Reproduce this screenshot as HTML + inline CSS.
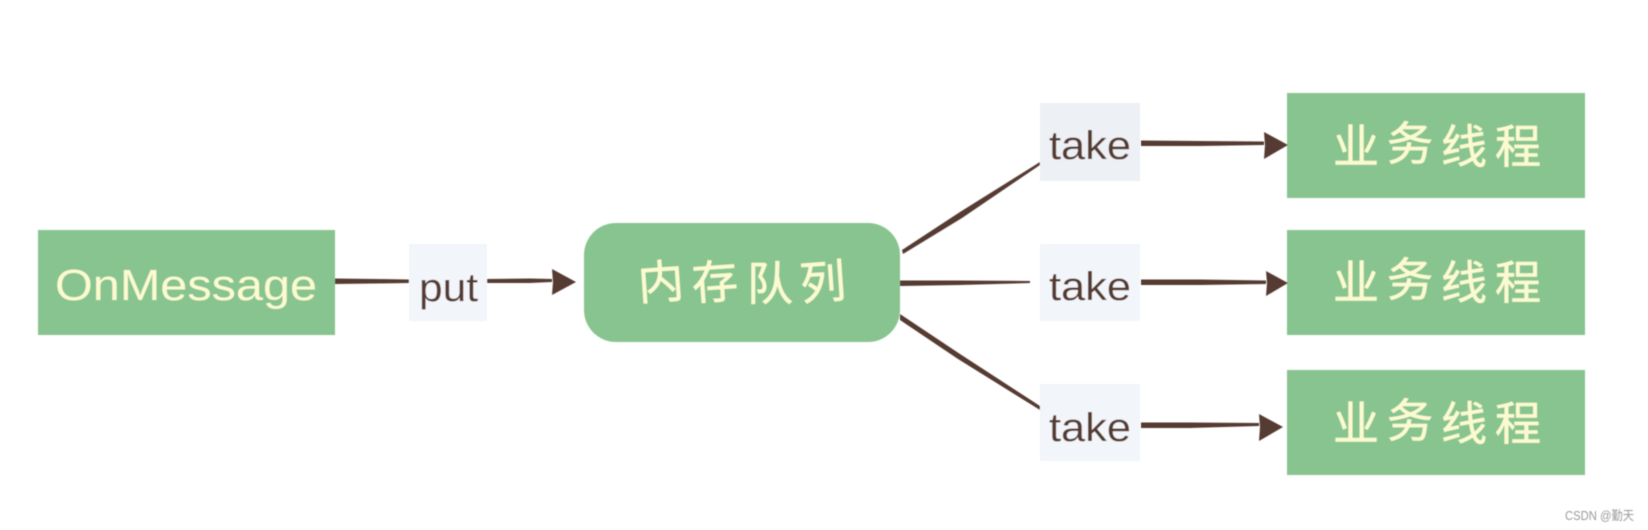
<!DOCTYPE html>
<html lang="zh">
<head>
<meta charset="utf-8">
<style>
html,body{margin:0;padding:0;background:#fff;width:1648px;height:530px;overflow:hidden}
svg{display:block}
text{font-family:"Liberation Sans","WenQuanYi Zen Hei","Noto Sans CJK SC",sans-serif}
.g{fill:#fbfad0;font-size:44px}
.t{fill:#553b30;font-size:40px}
.c{font-family:"WenQuanYi Zen Hei","Noto Sans CJK SC",sans-serif;fill:#fbfad0;font-size:46px;stroke:#fbfad0;stroke-width:.6}
</style>
</head>
<body>
<svg width="1648" height="530" viewBox="0 0 1648 530" xmlns="http://www.w3.org/2000/svg">
<defs><filter id="b" x="-2%" y="-2%" width="104%" height="104%"><feGaussianBlur stdDeviation="0.6"/></filter></defs>
<g filter="url(#b)">
<rect x="38" y="230" width="297" height="105" fill="#88c490"/>
<rect x="584" y="223" width="316" height="119" rx="32" fill="#88c490"/>
<rect x="1287" y="93" width="298" height="105" fill="#88c490"/>
<rect x="1287" y="230" width="298" height="105" fill="#88c490"/>
<rect x="1287" y="370" width="298" height="105" fill="#88c490"/>
<rect x="409" y="244" width="78" height="77" fill="#f2f5f9"/>
<rect x="1040" y="103" width="100" height="78" fill="#edf0f4"/>
<rect x="1040" y="244" width="100" height="77" fill="#f2f5f9"/>
<rect x="1040" y="384" width="100" height="77" fill="#f2f5f9"/>

<g fill="#553b30">
<polygon points="335,278.500 375,279 409,279.500 409,283 375,283.500 335,284"/>
<polygon points="487,279 530,278.500 552,279 552,282 530,283 487,283"/>
<polygon points="552,269 576,282 552,295 553,282"/>
<polygon points="902,250 960,212 1040,162 1040,165 962,218 903,254"/>
<polygon points="900,280.500 960,280.500 1030,281 1030,283 960,285 900,286"/>
<polygon points="900,314 960,354 1040,406 1040,410 958,359 900,320"/>
<polygon points="1141,140.500 1200,141 1264,141.500 1264,145 1200,146 1141,146"/>
<polygon points="1264,132 1288,145 1264,159 1265,145"/>
<polygon points="1141,279.500 1200,279.500 1266,280.500 1266,284 1200,285 1141,285"/>
<polygon points="1266,271 1288,283 1266,296 1267,283"/>
<polygon points="1141,422.500 1190,422.500 1259,423 1259,426 1190,428 1141,428"/>
<polygon points="1259,414 1283,427 1259,441 1260,427"/>
</g>

<text class="g" x="55" y="300" textLength="262" lengthAdjust="spacingAndGlyphs">OnMessage</text>
<text class="t" x="419" y="301" textLength="59" lengthAdjust="spacingAndGlyphs">put</text>
<text class="t" x="1049" y="159" textLength="82" lengthAdjust="spacingAndGlyphs">take</text>
<text class="t" x="1049" y="300" textLength="82" lengthAdjust="spacingAndGlyphs">take</text>
<text class="t" x="1049" y="441" textLength="82" lengthAdjust="spacingAndGlyphs">take</text>

<text class="c" x="639" y="300" textLength="208" rotate="-4 -4 0 -4">内存队列</text>
<text class="c" x="1333" y="163" textLength="208" dy="0 -3 3 0">业务线程</text>
<text class="c" x="1333" y="299" textLength="208" dy="0 -3 3 0">业务线程</text>
<text class="c" x="1333" y="440" textLength="208" dy="0 -3 3 0">业务线程</text>

<text x="1565" y="520" font-size="13" fill="#9a9a9a" textLength="69" lengthAdjust="spacingAndGlyphs" style="font-family:'Liberation Sans','Noto Sans CJK SC',sans-serif">CSDN @勤天</text>
</g>
</svg>
</body>
</html>
